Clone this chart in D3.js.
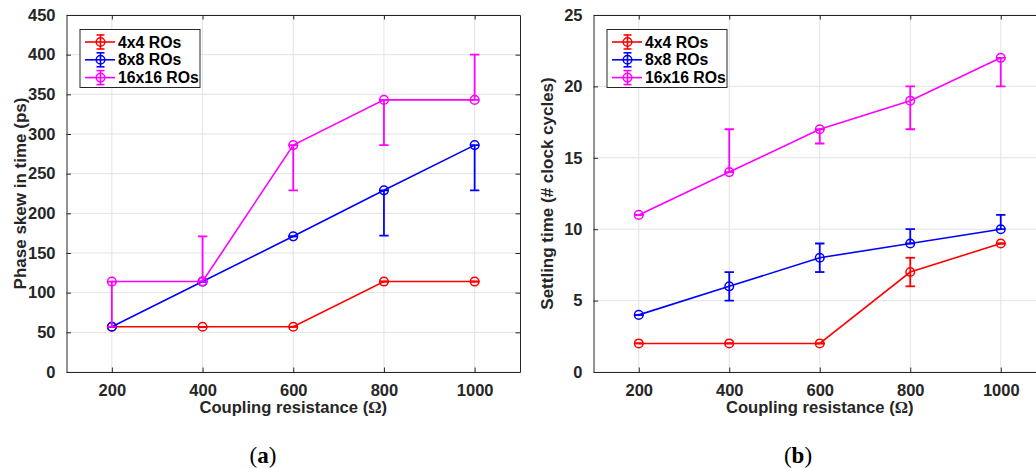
<!DOCTYPE html>
<html>
<head>
<meta charset="utf-8">
<script src="https://cdn.jsdelivr.net/npm/d3@7"></script>
<style>
  html, body { margin: 0; padding: 0; background: #fff; }
  svg { display: block; }
  .tick text { font-family: "Liberation Sans", Arial, Helvetica, sans-serif; font-weight: bold; font-size: 16.5px; fill: #262626; }
  .lbl { font-family: "Liberation Sans", Arial, Helvetica, sans-serif; font-weight: bold; font-size: 16.6px; fill: #262626; }
  .ylbl { font-family: "Liberation Sans", Arial, Helvetica, sans-serif; font-weight: bold; font-size: 17px; fill: #262626; }
  .leg { font-family: "Liberation Sans", Arial, Helvetica, sans-serif; font-weight: bold; font-size: 15.8px; fill: #000; }
  .cap { font-family: "Liberation Serif", "Times New Roman", serif; font-size: 23px; fill: #000; }
</style>
</head>
<body>
<script>
// Coupling resistance sweep (Ω)
const resistance = [200, 400, 600, 800, 1000];
const seriesNames = ["4x4 ROs", "8x8 ROs", "16x16 ROs"];
const seriesColors = ["#ff0000", "#0000ff", "#ff00ff"];

// (a) Phase skew in time (ps), with lower / upper error extents
const skew4x4 = [57, 57, 57, 114, 114];
const skew4x4Neg = [0, 0, 0, 0, 0];
const skew4x4Pos = [0, 0, 0, 0, 0];
const skew8x8 = [57, 114, 171, 229, 286];
const skew8x8Neg = [0, 0, 0, 57, 57];
const skew8x8Pos = [0, 0, 0, 0, 0];
const skew16x16 = [114, 114, 286, 343, 343];
const skew16x16Neg = [57, 0, 57, 57, 0];
const skew16x16Pos = [0, 57, 0, 0, 57];
const skewTicks = [0, 50, 100, 150, 200, 250, 300, 350, 400, 450];

// (b) Settling time (# clock cycles), with lower / upper error extents
const settle4x4 = [2, 2, 2, 7, 9];
const settle4x4Neg = [0, 0, 0, 1, 0];
const settle4x4Pos = [0, 0, 0, 1, 0];
const settle8x8 = [4, 6, 8, 9, 10];
const settle8x8Neg = [0, 1, 1, 0, 0];
const settle8x8Pos = [0, 1, 1, 1, 1];
const settle16x16 = [11, 14, 17, 19, 22];
const settle16x16Neg = [0, 0, 1, 2, 2];
const settle16x16Pos = [0, 3, 0, 1, 0];
const settleTicks = [0, 5, 10, 15, 20, 25];

const xTicks = [200, 400, 600, 800, 1000];

const W = 1036, H = 468;
const svg = d3.select("body").append("svg").attr("width", W).attr("height", H);

const AXIS = "#262626", GRID = "#e3e3e3";

function panel(opts) {
  const { left, right, top, bottom, yMax, yTicks, yLabel, series, caption, capX } = opts;
  const x = d3.scaleLinear().domain([100, 1100]).range([left, right]);
  const y = d3.scaleLinear().domain([0, yMax]).range([bottom, top]);
  const g = svg.append("g");

  // grid
  g.append("g").selectAll("line").data(xTicks).join("line")
    .attr("x1", d => x(d)).attr("x2", d => x(d)).attr("y1", top).attr("y2", bottom)
    .attr("stroke", GRID).attr("stroke-width", 1);
  g.append("g").selectAll("line").data(yTicks).join("line")
    .attr("x1", left).attr("x2", right).attr("y1", d => y(d)).attr("y2", d => y(d))
    .attr("stroke", GRID).attr("stroke-width", 1);

  // axes (ticks pointing inward, mirrored on top / right)
  const styleAxis = sel => {
    sel.select(".domain").attr("stroke", AXIS).attr("stroke-width", 1);
    sel.selectAll(".tick line").attr("stroke", AXIS).attr("stroke-width", 1);
  };
  const fmt = d3.format("d");
  g.append("g").attr("transform", `translate(0,${bottom})`)
    .call(d3.axisBottom(x).tickValues(xTicks).tickFormat(fmt).tickSizeInner(-4.5).tickSizeOuter(0).tickPadding(12))
    .call(styleAxis);
  g.append("g").attr("transform", `translate(0,${top})`)
    .call(d3.axisTop(x).tickValues(xTicks).tickSizeInner(-4.5).tickSizeOuter(0).tickFormat(""))
    .call(styleAxis);
  g.append("g").attr("transform", `translate(${left},0)`)
    .call(d3.axisLeft(y).tickValues(yTicks).tickFormat(fmt).tickSizeInner(-4.5).tickSizeOuter(0).tickPadding(11))
    .call(styleAxis);
  g.append("g").attr("transform", `translate(${right},0)`)
    .call(d3.axisRight(y).tickValues(yTicks).tickSizeInner(-4.5).tickSizeOuter(0).tickFormat(""))
    .call(styleAxis);
  g.selectAll(".tick text").attr("fill", AXIS);

  // series: line, error bars, markers
  const clipId = "clip" + Math.round(left);
  svg.append("clipPath").attr("id", clipId).append("rect")
    .attr("x", left).attr("y", top).attr("width", right - left).attr("height", bottom - top);
  const plot = g.append("g").attr("clip-path", `url(#${clipId})`);
  const capHalf = 4.7;
  series.forEach((s, i) => {
    const c = seriesColors[i];
    const pts = resistance.map((r, k) => ({ r, v: s.values[k], lo: s.neg[k], hi: s.pos[k] }));
    const sg = plot.append("g");
    sg.append("path").datum(pts)
      .attr("d", d3.line().x(d => x(d.r)).y(d => y(d.v)))
      .attr("fill", "none").attr("stroke", c).attr("stroke-width", 1.6);
    const eb = sg.append("g").selectAll("g").data(pts).join("g");
    eb.append("line")
      .attr("x1", d => x(d.r)).attr("x2", d => x(d.r))
      .attr("y1", d => y(d.v - d.lo)).attr("y2", d => y(d.v + d.hi))
      .attr("stroke", c).attr("stroke-width", 1.8);
    eb.append("line")
      .attr("x1", d => x(d.r) - capHalf).attr("x2", d => x(d.r) + capHalf)
      .attr("y1", d => y(d.v - d.lo)).attr("y2", d => y(d.v - d.lo))
      .attr("stroke", c).attr("stroke-width", 1.8);
    eb.append("line")
      .attr("x1", d => x(d.r) - capHalf).attr("x2", d => x(d.r) + capHalf)
      .attr("y1", d => y(d.v + d.hi)).attr("y2", d => y(d.v + d.hi))
      .attr("stroke", c).attr("stroke-width", 1.8);
    sg.append("g").selectAll("circle").data(pts).join("circle")
      .attr("cx", d => x(d.r)).attr("cy", d => y(d.v)).attr("r", 4.3)
      .attr("fill", "none").attr("stroke", c).attr("stroke-width", 1.5);
  });

  // axis labels
  const xl = svg.append("text").attr("class", "lbl")
    .attr("x", (left + right) / 2).attr("y", 413).attr("text-anchor", "middle");
  xl.append("tspan").text("Coupling resistance (");
  xl.append("tspan").attr("font-family", "'Liberation Serif', 'Times New Roman', serif").text("Ω");
  xl.append("tspan").text(")");

  svg.append("text").attr("class", "ylbl")
    .attr("transform", `translate(${left - 40.5},${(top + bottom) / 2}) rotate(-90)`)
    .attr("text-anchor", "middle").text(yLabel);

  // legend
  const lx = left + 13.5, ly = top + 14.5, lw = 120, lh = 58;
  const lg = svg.append("g");
  lg.append("rect").attr("x", lx).attr("y", ly).attr("width", lw).attr("height", lh)
    .attr("fill", "#fff").attr("stroke", AXIS).attr("stroke-width", 1);
  seriesNames.forEach((name, i) => {
    const cy = ly + 12.5 + i * 17.8, c = seriesColors[i];
    const cx = lx + 20.5;
    lg.append("line").attr("x1", lx + 5).attr("x2", lx + 35).attr("y1", cy).attr("y2", cy)
      .attr("stroke", c).attr("stroke-width", 1.6);
    lg.append("line").attr("x1", cx).attr("x2", cx).attr("y1", cy - 7).attr("y2", cy + 7)
      .attr("stroke", c).attr("stroke-width", 1.6);
    [cy - 7, cy + 7].forEach(yy => lg.append("line")
      .attr("x1", cx - 4).attr("x2", cx + 4).attr("y1", yy).attr("y2", yy)
      .attr("stroke", c).attr("stroke-width", 1.6));
    lg.append("circle").attr("cx", cx).attr("cy", cy).attr("r", 4.3)
      .attr("fill", "none").attr("stroke", c).attr("stroke-width", 1.5);
    lg.append("text").attr("class", "leg").attr("x", lx + 38).attr("y", cy + 5.5).text(name);
  });

  // sub-figure caption
  const cap = svg.append("text").attr("class", "cap")
    .attr("x", capX).attr("y", 463).attr("text-anchor", "middle");
  cap.append("tspan").text("(");
  cap.append("tspan").attr("font-weight", "bold").text(caption);
  cap.append("tspan").text(")");
}

panel({
  left: 66.5, right: 520, top: 15, bottom: 372, yMax: 450, yTicks: skewTicks,
  yLabel: "Phase skew in time (ps)", caption: "a", capX: 263,
  series: [
    { values: skew4x4, neg: skew4x4Neg, pos: skew4x4Pos },
    { values: skew8x8, neg: skew8x8Neg, pos: skew8x8Pos },
    { values: skew16x16, neg: skew16x16Neg, pos: skew16x16Pos }
  ]
});

panel({
  left: 593.5, right: 1046, top: 15, bottom: 372, yMax: 25, yTicks: settleTicks,
  yLabel: "Settling time (# clock cycles)", caption: "b", capX: 798,
  series: [
    { values: settle4x4, neg: settle4x4Neg, pos: settle4x4Pos },
    { values: settle8x8, neg: settle8x8Neg, pos: settle8x8Pos },
    { values: settle16x16, neg: settle16x16Neg, pos: settle16x16Pos }
  ]
});
</script>
</body>
</html>
